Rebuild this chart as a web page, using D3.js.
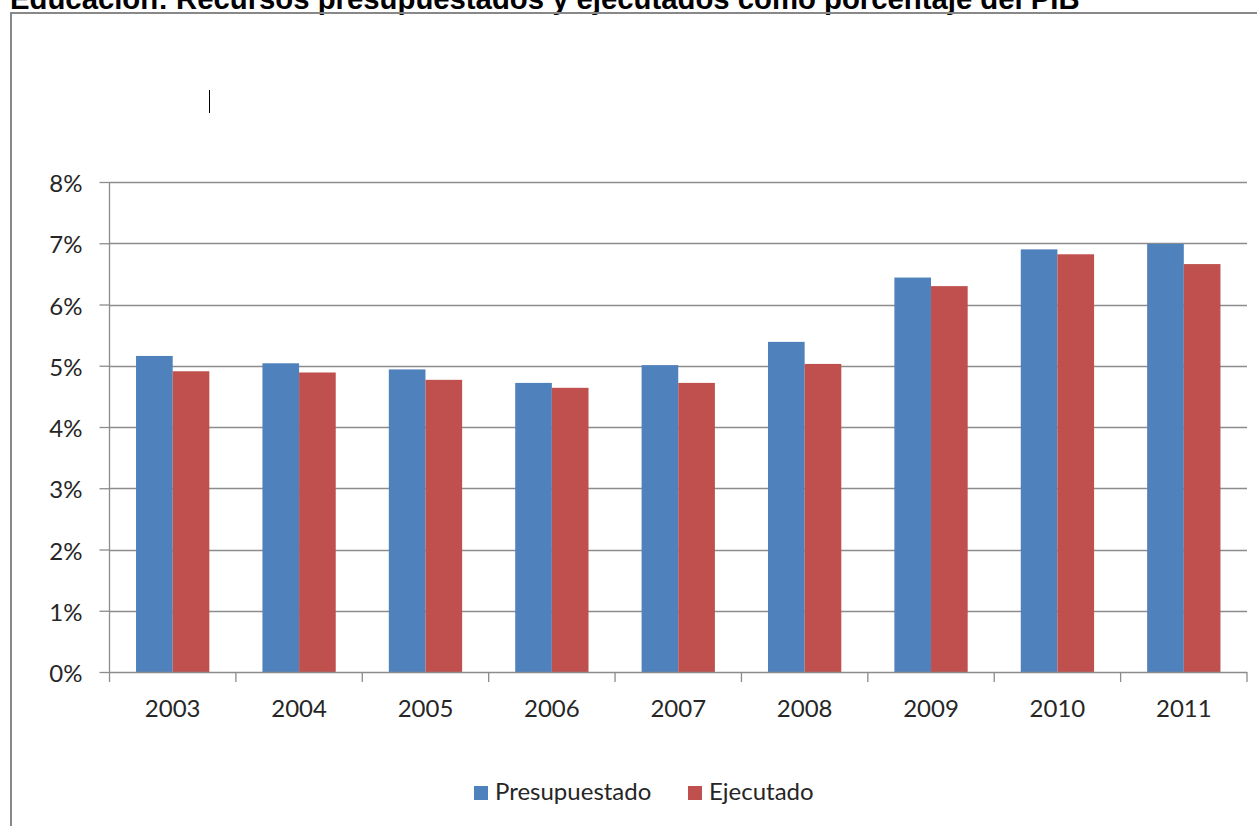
<!DOCTYPE html>
<html>
<head>
<meta charset="utf-8">
<script src="https://cdn.jsdelivr.net/npm/d3@7"></script>
<style>
  html, body { margin: 0; padding: 0; background: #fff; overflow: hidden; }
  svg { display: block; }
</style>
</head>
<body>
<div id="chart"></div>
<script>
var years = ["2003", "2004", "2005", "2006", "2007", "2008", "2009", "2010", "2011"];
var seriesNames = ["Presupuestado", "Ejecutado"];
var presupuestado = [5.16, 5.04, 4.94, 4.72, 5.01, 5.39, 6.44, 6.90, 6.99];
var ejecutado = [4.91, 4.89, 4.77, 4.64, 4.72, 5.03, 6.30, 6.82, 6.66];
var yTicks = [0, 1, 2, 3, 4, 5, 6, 7, 8];
var colors = ["#4F81BD", "#C0504D"];
var titleText = "Educación: Recursos presupuestados y ejecutados como porcentaje del PIB";

var svgWidth = 1257;
var svgHeight = 826;

var plot = { left: 109.5, right: 1247, top: 182, bottom: 672 };
var font = "Lato, 'Open Sans', sans-serif";
var fontSize = "24px";

var svg = d3.select("#chart")
  .append("svg")
  .attr("width", svgWidth)
  .attr("height", svgHeight);

// title, clipped by the top of the page as in the source
var title = svg.append("text")
  .attr("x", 10)
  .attr("y", 9)
  .style("font-family", "'Liberation Sans', Arial, sans-serif")
  .style("font-weight", "bold")
  .style("font-size", "22px")
  .attr("fill", "#000")
  .text(titleText);
var tw = title.node().getComputedTextLength();
title.style("font-size", (22 * 1070 / tw) + "px");

// outer frame
svg.append("rect")
  .attr("x", 11)
  .attr("y", 13)
  .attr("width", 1260)
  .attr("height", 830)
  .attr("fill", "none")
  .attr("stroke", "#888")
  .attr("stroke-width", 2);

// stray cursor mark
svg.append("line")
  .attr("x1", 209.5).attr("x2", 209.5)
  .attr("y1", 90).attr("y2", 113)
  .attr("stroke", "#000")
  .attr("stroke-width", 1);

var x0 = d3.scaleBand()
  .domain(years)
  .range([plot.left, plot.right])
  .padding(0);

var bw = x0.bandwidth();
var x1 = d3.scaleBand()
  .domain(seriesNames)
  .range([bw * 0.21, bw * 0.79])
  .padding(0);

var y = d3.scaleLinear()
  .domain([0, 8])
  .range([plot.bottom, plot.top]);

// gridlines
svg.append("g")
  .selectAll("line")
  .data(yTicks.filter(d => d > 0))
  .enter()
  .append("line")
  .attr("x1", plot.left)
  .attr("x2", plot.right)
  .attr("y1", d => Math.round(y(d)) + 0.5)
  .attr("y2", d => Math.round(y(d)) + 0.5)
  .attr("stroke", "#8c8c8c")
  .attr("stroke-width", 1.3);

// bars
var rows = years.map(function(yr, i) {
  return { year: yr, values: [presupuestado[i], ejecutado[i]] };
});

var groups = svg.append("g")
  .selectAll("g")
  .data(rows)
  .enter()
  .append("g")
  .attr("transform", d => `translate(${x0(d.year)},0)`);

groups.selectAll("rect")
  .data(d => d.values.map((v, k) => ({ name: seriesNames[k], value: v, k: k })))
  .enter()
  .append("rect")
  .attr("x", d => x1(d.name))
  .attr("width", x1.bandwidth())
  .attr("y", d => y(d.value))
  .attr("height", d => y(0) - y(d.value))
  .attr("fill", d => colors[d.k]);

// y axis
var leftAxis = d3.axisLeft(y)
  .tickValues(yTicks)
  .tickSize(10)
  .tickPadding(17)
  .tickFormat(d => d + "%");

var gy = svg.append("g")
  .attr("transform", `translate(${plot.left},0)`)
  .call(leftAxis);
gy.selectAll("path, line").attr("stroke", "#8c8c8c").attr("stroke-width", 1.3);
gy.select(".domain").attr("d", `M0,${plot.top}V${plot.bottom}`);
gy.selectAll("text")
  .attr("dy", "0.4em")
  .style("font-family", font)
  .style("font-size", fontSize)
  .attr("fill", "#262626");

// x axis: labels at band centres, ticks at band edges
var bottomAxis = d3.axisBottom(x0)
  .tickSize(0)
  .tickPadding(28);

var gx = svg.append("g")
  .attr("transform", `translate(0,${plot.bottom})`)
  .call(bottomAxis);
gx.select(".domain").attr("stroke", "#8c8c8c").attr("stroke-width", 1.3)
  .attr("d", `M${plot.left},0.5H${plot.right}`);
gx.selectAll("text")
  .style("font-family", font)
  .style("font-size", fontSize)
  .attr("fill", "#262626");

var edges = years.map(d => x0(d)).concat([plot.right]);
gx.selectAll(".edge")
  .data(edges)
  .enter()
  .append("line")
  .attr("class", "edge")
  .attr("x1", d => d)
  .attr("x2", d => d)
  .attr("y1", 0)
  .attr("y2", 10)
  .attr("stroke", "#8c8c8c")
  .attr("stroke-width", 1.3);

// legend
var legendItems = [
  { name: seriesNames[0], color: colors[0], x: 474 },
  { name: seriesNames[1], color: colors[1], x: 688 }
];
var legend = svg.append("g")
  .selectAll("g")
  .data(legendItems)
  .enter()
  .append("g")
  .attr("transform", d => `translate(${d.x},786)`);

legend.append("rect")
  .attr("width", 14)
  .attr("height", 14)
  .attr("fill", d => d.color);

legend.append("text")
  .attr("x", 21)
  .attr("y", 13.5)
  .style("font-family", font)
  .style("font-size", fontSize)
  .attr("fill", "#262626")
  .text(d => d.name);
</script>
</body>
</html>
